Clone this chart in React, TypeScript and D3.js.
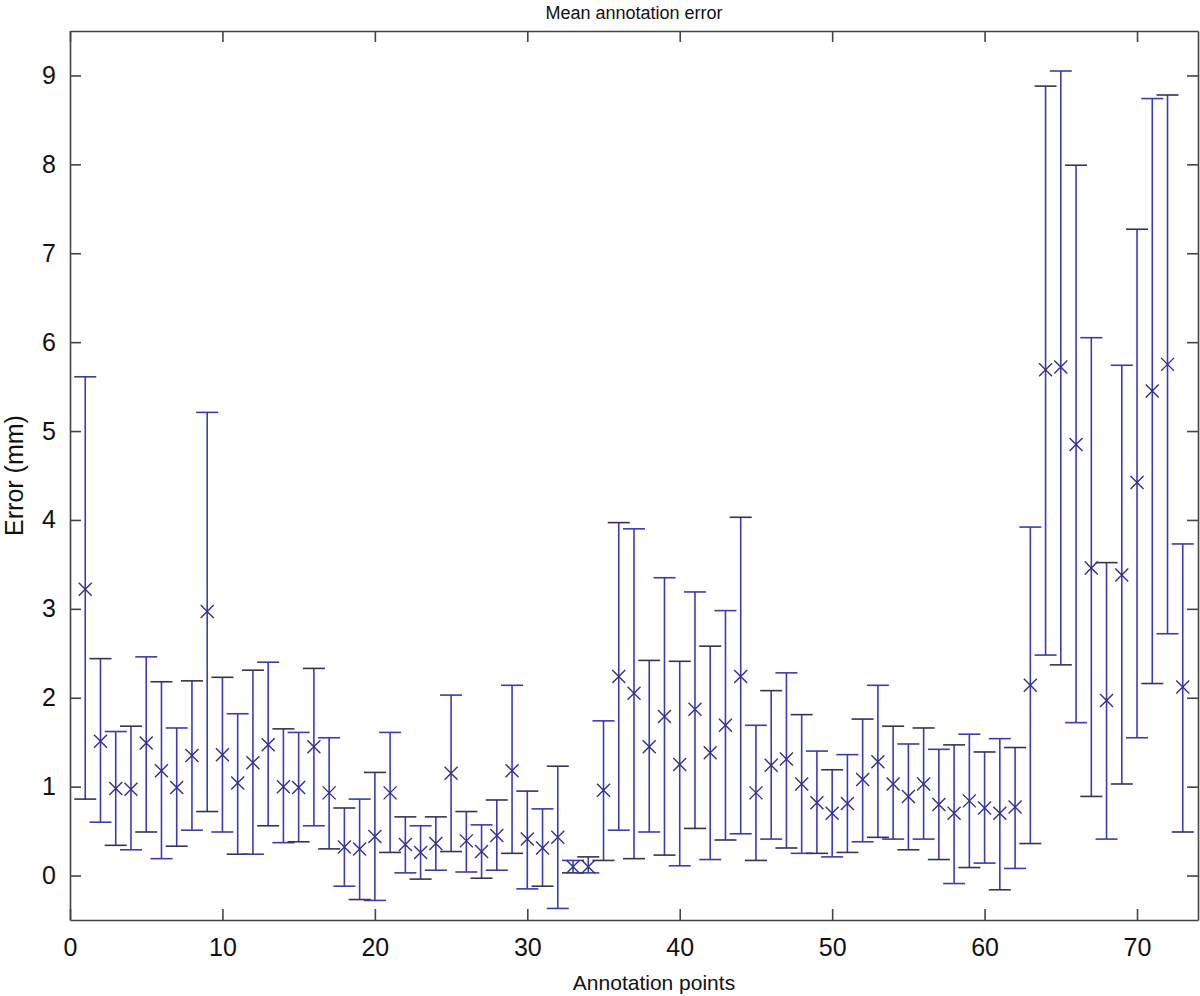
import React, { useEffect, useRef } from 'react';
import * as d3 from 'd3';

// annotation point index 1..73
const points = d3.range(1, 74);

// mean error per point (mm)
const means = [
  3.22, 1.51, 0.98, 0.97, 1.49, 1.18, 0.99, 1.35, 2.97, 1.36,
  1.04, 1.27, 1.47, 1.00, 0.99, 1.45, 0.93, 0.32, 0.30, 0.44,
  0.93, 0.35, 0.26, 0.36, 1.15, 0.39, 0.27, 0.45, 1.18, 0.41,
  0.31, 0.43, 0.10, 0.10, 0.96, 2.24, 2.05, 1.45, 1.79, 1.25,
  1.87, 1.38, 1.69, 2.24, 0.93, 1.24, 1.31, 1.03, 0.82, 0.70,
  0.81, 1.08, 1.28, 1.03, 0.89, 1.03, 0.80, 0.70, 0.84, 0.76,
  0.70, 0.77, 2.14, 5.69, 5.72, 4.85, 3.46, 1.97, 3.38, 4.42,
  5.45, 5.75, 2.12,
];

// upper end of each error bar
const uppers = [
  5.61, 2.44, 1.62, 1.68, 2.46, 2.18, 1.66, 2.19, 5.21, 2.23,
  1.82, 2.31, 2.40, 1.65, 1.61, 2.33, 1.55, 0.76, 0.86, 1.16,
  1.61, 0.66, 0.56, 0.66, 2.03, 0.72, 0.57, 0.85, 2.14, 0.95,
  0.75, 1.23, 0.17, 0.21, 1.74, 3.97, 3.90, 2.42, 3.35, 2.41,
  3.19, 2.58, 2.98, 4.03, 1.69, 2.08, 2.28, 1.81, 1.40, 1.19,
  1.36, 1.76, 2.14, 1.68, 1.48, 1.66, 1.42, 1.47, 1.59, 1.39,
  1.54, 1.44, 3.92, 8.88, 9.05, 7.99, 6.05, 3.52, 5.74, 7.27,
  8.74, 8.78, 3.73,
];

// lower end of each error bar
const lowers = [
  0.86, 0.60, 0.34, 0.29, 0.49, 0.19, 0.33, 0.51, 0.72, 0.49,
  0.24, 0.24, 0.56, 0.37, 0.38, 0.56, 0.30, -0.12, -0.27, -0.28,
  0.26, 0.03, -0.04, 0.06, 0.27, 0.04, -0.03, 0.06, 0.25, -0.15,
  -0.12, -0.37, 0.03, 0.03, 0.17, 0.51, 0.19, 0.49, 0.23, 0.11,
  0.53, 0.18, 0.40, 0.47, 0.17, 0.41, 0.31, 0.25, 0.25, 0.21,
  0.26, 0.38, 0.43, 0.41, 0.29, 0.41, 0.18, -0.09, 0.09, 0.14,
  -0.16, 0.08, 0.36, 2.48, 2.37, 1.72, 0.89, 0.41, 1.03, 1.55,
  2.16, 2.72, 0.49,
];

const xTicks = [0, 10, 20, 30, 40, 50, 60, 70];
const yTicks = [0, 1, 2, 3, 4, 5, 6, 7, 8, 9];

const W = 1200;
const H = 996;
const margin = { top: 31, right: 2, bottom: 76, left: 70 };

const App = () => {
  const ref = useRef<SVGSVGElement>(null);

  useEffect(() => {
    const svg = d3.select(ref.current);
    svg.selectAll('*').remove();

    const iw = W - margin.left - margin.right;
    const ih = H - margin.top - margin.bottom;

    const x = d3.scaleLinear().domain([0, 74]).range([0, iw]);
    const y = d3.scaleLinear().domain([-0.5, 9.5]).range([ih, 0]);

    const g = svg.append('g').attr('transform', `translate(${margin.left},${margin.top})`);

    const font = 'Arial, "Liberation Sans", Helvetica, sans-serif';
    const axisColor = '#444';

    // error bars
    const data = points.map((p, i) => ({ p, m: means[i], lo: lowers[i], hi: uppers[i] }));
    const bars = g.append('g').selectAll('g').data(data).join('g');
    const capW = 11;

    bars.append('line')
      .attr('x1', d => x(d.p)).attr('x2', d => x(d.p))
      .attr('y1', d => y(d.lo)).attr('y2', d => y(d.hi))
      .attr('stroke', '#3b3bb8').attr('stroke-width', 1.6);
    bars.append('line')
      .attr('x1', d => x(d.p) - capW).attr('x2', d => x(d.p) + capW)
      .attr('y1', d => y(d.hi)).attr('y2', d => y(d.hi))
      .attr('stroke', (d, i) => (i % 2 ? '#333355' : '#3b3bb0')).attr('stroke-width', 1.6);
    bars.append('line')
      .attr('x1', d => x(d.p) - capW).attr('x2', d => x(d.p) + capW)
      .attr('y1', d => y(d.lo)).attr('y2', d => y(d.lo))
      .attr('stroke', (d, i) => (i % 2 ? '#3b3bb0' : '#333355')).attr('stroke-width', 1.6);

    // x markers
    const ms = 6.5;
    bars.append('path')
      .attr('d', d => {
        const cx = x(d.p), cy = y(d.m);
        return `M${cx - ms},${cy - ms}L${cx + ms},${cy + ms}M${cx - ms},${cy + ms}L${cx + ms},${cy - ms}`;
      })
      .attr('stroke', '#30308a').attr('stroke-width', 1.4).attr('fill', 'none');

    // box axes with inward ticks
    const bottom = g.append('g').attr('transform', `translate(0,${ih})`)
      .call(d3.axisBottom(x).tickValues(xTicks).tickSize(-11).tickSizeOuter(0).tickPadding(18));
    const top = g.append('g')
      .call(d3.axisTop(x).tickValues(xTicks).tickSize(-11).tickSizeOuter(0).tickFormat(() => ''));
    const left = g.append('g')
      .call(d3.axisLeft(y).tickValues(yTicks).tickSize(-11).tickSizeOuter(0).tickPadding(14));
    const right = g.append('g').attr('transform', `translate(${iw},0)`)
      .call(d3.axisRight(y).tickValues(yTicks).tickSize(-11).tickSizeOuter(0).tickFormat(() => ''));

    [bottom, top, left, right].forEach(a => {
      a.select('.domain').attr('stroke', axisColor).attr('stroke-width', 1.6);
      a.selectAll('.tick line').attr('stroke', axisColor).attr('stroke-width', 1.6);
      a.selectAll('text').attr('font-family', font).attr('font-size', 25).attr('fill', '#111');
    });

    // title and labels
    svg.append('text')
      .attr('x', margin.left + iw / 2).attr('y', 19)
      .attr('text-anchor', 'middle').attr('font-family', font).attr('font-size', 18).attr('fill', '#111')
      .text('Mean annotation error');

    svg.append('text')
      .attr('x', 654).attr('y', 990)
      .attr('text-anchor', 'middle').attr('font-family', font).attr('font-size', 21).attr('fill', '#111')
      .text('Annotation points');

    svg.append('text')
      .attr('transform', `translate(23,${margin.top + y(4.5)}) rotate(-90)`)
      .attr('text-anchor', 'middle').attr('font-family', font).attr('font-size', 25).attr('fill', '#111')
      .text('Error (mm)');
  }, []);

  return (
    <div style={{ position: 'absolute', left: 0, top: 0 }}>
      <svg ref={ref} width={W} height={H} style={{ display: 'block', background: '#fff' }}></svg>
    </div>
  );
};

export default App;
